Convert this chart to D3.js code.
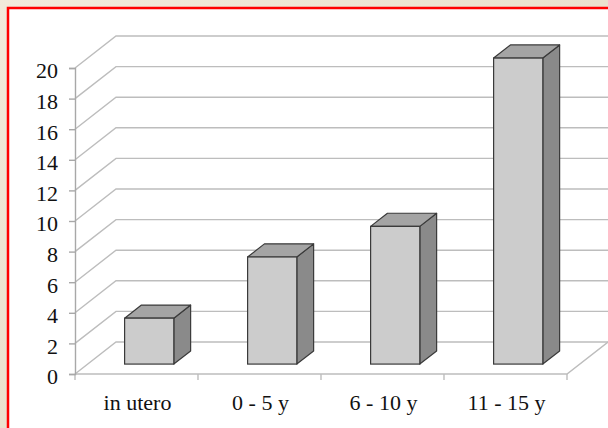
<!DOCTYPE html>
<html>
<head>
<meta charset="utf-8">
<script src="https://cdn.jsdelivr.net/npm/d3@7"></script>
<style>
  html, body { margin: 0; padding: 0; background: #ebe2cf; }
  svg { display: block; }
  text.lbl { font-family: "Liberation Serif", "Times New Roman", Times, serif; font-size: 22px; fill: #111; }
</style>
</head>
<body>
<svg id="chart" width="608" height="428"></svg>
<script>
// Age groups and counts
const categories = ["in utero", "0 - 5 y", "6 - 10 y", "11 - 15 y"];
const values = [3, 7, 9, 20];
const yTicks = [0, 2, 4, 6, 8, 10, 12, 14, 16, 18, 20];

const svg = d3.select("#chart");
const W = 608, H = 428;
const serif = "Liberation Serif, Times New Roman, Times, serif";

// page background gradient
const defs = svg.append("defs");
const bg = defs.append("linearGradient").attr("id", "bg")
  .attr("x1", "0").attr("y1", "0").attr("x2", "1").attr("y2", "1");
bg.append("stop").attr("offset", "0").attr("stop-color", "#f2eadb");
bg.append("stop").attr("offset", "0.5").attr("stop-color", "#ebe1cd");
bg.append("stop").attr("offset", "1").attr("stop-color", "#dcd1b6");
svg.append("rect").attr("width", W).attr("height", H).attr("fill", "url(#bg)");

// white panel with red frame
svg.append("rect")
  .attr("x", 8).attr("y", 8).attr("width", W + 20).attr("height", H + 20)
  .attr("fill", "#ffffff").attr("stroke", "#ff0000").attr("stroke-width", 2.5);

// 3D plot geometry
const x0 = 75, x1 = 567, depthX = 41, depthY = 32;
const x = d3.scaleBand().domain(categories).range([x0, x1]).paddingInner(0).paddingOuter(0);
const y = d3.scaleLinear().domain([0, 20]).range([374, 68]);
const fFront = 0.31, fBack = 0.72;
const barW = x.bandwidth() * 0.4;

const grid = "#bdbdbd";

// back wall gridlines and left wall diagonals
const g = svg.append("g");
yTicks.forEach(t => {
  const yy = y(t);
  g.append("path")
    .attr("d", `M${x0},${yy}L${x0 + depthX},${yy - depthY}L${x1 + depthX},${yy - depthY}`)
    .attr("fill", "none").attr("stroke", grid).attr("stroke-width", 1.4);
});

// floor outline
g.append("path")
  .attr("d", `M${x0},${y(0)}L${x1},${y(0)}L${x1 + depthX},${y(0) - depthY}`)
  .attr("fill", "none").attr("stroke", grid).attr("stroke-width", 1.4);

// category boundary ticks on the front floor edge
const bounds = categories.map(c => x(c)).concat([x1]);
g.selectAll("line.ctick").data(bounds).join("line")
  .attr("class", "ctick")
  .attr("x1", d => d).attr("x2", d => d)
  .attr("y1", y(0)).attr("y2", y(0) + 6)
  .attr("stroke", grid).attr("stroke-width", 1.4);

// y axis
const yAxis = d3.axisLeft(y).tickValues(yTicks).tickSize(6).tickPadding(11);
const ya = svg.append("g").attr("transform", `translate(${x0},0)`).call(yAxis)
  .attr("font-family", serif).attr("font-size", 22);
ya.select(".domain").attr("stroke", "#a8a8a8").attr("stroke-width", 1.4);
ya.selectAll(".tick line").attr("stroke", "#a8a8a8").attr("stroke-width", 1.4);
ya.selectAll(".tick text")
  .attr("class", "lbl")
  .attr("dy", "0.45em")
  .attr("font-family", serif).attr("font-size", 22);

// x axis labels
const xAxis = d3.axisBottom(x).tickSize(0).tickPadding(20);
const xa = svg.append("g").attr("transform", `translate(1,${y(0)})`).call(xAxis)
  .attr("font-family", serif).attr("font-size", 22);
xa.select(".domain").remove();
xa.selectAll(".tick text")
  .attr("class", "lbl")
  .attr("font-family", serif).attr("font-size", 22);

// 3D bars
const bars = svg.append("g");
categories.forEach((c, i) => {
  const v = values[i];
  const cx = x(c) + x.bandwidth() / 2;
  const fx = cx - barW / 2 + fFront * depthX;   // front-left x
  const fy0 = y(0) - fFront * depthY;           // front bottom y
  const fyT = y(v) - fFront * depthY;           // front top y
  const dx = (fBack - fFront) * depthX;
  const dy = (fBack - fFront) * depthY;
  const st = { stroke: "#3a3a3a", sw: 1.2 };

  // side face
  bars.append("path")
    .attr("d", `M${fx + barW},${fy0}L${fx + barW + dx},${fy0 - dy}L${fx + barW + dx},${fyT - dy}L${fx + barW},${fyT}Z`)
    .attr("fill", "#8a8a8a").attr("stroke", st.stroke).attr("stroke-width", st.sw)
    .attr("stroke-linejoin", "round");
  // top face
  bars.append("path")
    .attr("d", `M${fx},${fyT}L${fx + dx},${fyT - dy}L${fx + barW + dx},${fyT - dy}L${fx + barW},${fyT}Z`)
    .attr("fill", "#a4a4a4").attr("stroke", st.stroke).attr("stroke-width", st.sw)
    .attr("stroke-linejoin", "round");
  // front face
  bars.append("rect")
    .attr("x", fx).attr("y", fyT).attr("width", barW).attr("height", fy0 - fyT)
    .attr("fill", "#cccccc").attr("stroke", st.stroke).attr("stroke-width", st.sw);
});
</script>
</body>
</html>
